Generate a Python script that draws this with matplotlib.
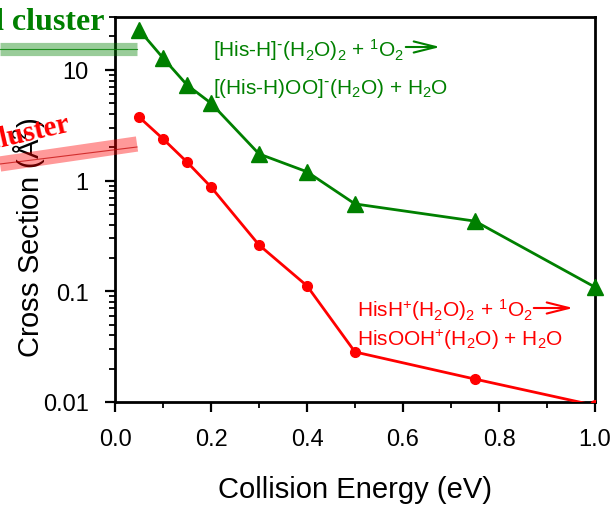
import matplotlib
matplotlib.use("Agg")
import matplotlib.pyplot as plt
from matplotlib.lines import Line2D
from matplotlib.ticker import FixedLocator, FuncFormatter, LogLocator, NullFormatter, MultipleLocator

plt.rcParams["font.family"] = ["Liberation Sans", "DejaVu Sans"]
plt.rcParams["mathtext.default"] = "regular"

# ── Data ──────────────────────────────────────────────────────
energy_green = [0.05, 0.10, 0.15, 0.20, 0.30, 0.40, 0.50, 0.75, 1.00]
xsec_green   = [23.0, 12.8, 7.3, 5.0, 1.74, 1.2, 0.615, 0.43, 0.109]

energy_red = [0.05, 0.10, 0.15, 0.20, 0.30, 0.40, 0.50, 0.75, 1.00]
xsec_red   = [3.75, 2.38, 1.47, 0.875, 0.262, 0.112, 0.0283, 0.0161, 0.0093]

x_ticks = [0.0, 0.2, 0.4, 0.6, 0.8, 1.0]
y_ticks = [0.01, 0.1, 1, 10]

GREEN = "#008000"
RED = "#ff0000"

W, H = 615, 506


def fx(px):
    return px / W


def fy(py):
    return 1 - py / H


fig = plt.figure(figsize=(6.15, 5.06), dpi=100)
ax = fig.add_axes([fx(115), fy(403), fx(595) - fx(115), fy(18) - fy(403)])

ax.plot(energy_green, xsec_green, color=GREEN, lw=2, marker="^", ms=11,
        clip_on=False, zorder=3)
ax.plot(energy_red, xsec_red, color=RED, lw=2, marker="o", ms=7,
        clip_on=True, zorder=3)

ax.set_yscale("log")
ax.set_xlim(0, 1.0)
ax.set_ylim(0.01, 30)

ax.xaxis.set_major_locator(FixedLocator(x_ticks))
ax.xaxis.set_major_formatter(FuncFormatter(lambda v, p: f"{v:.1f}"))
ax.xaxis.set_minor_locator(MultipleLocator(0.1))
ax.yaxis.set_major_locator(FixedLocator(y_ticks))
ax.yaxis.set_major_formatter(FuncFormatter(lambda v, p: f"{v:g}"))
ax.yaxis.set_minor_locator(LogLocator(base=10, subs=range(2, 10)))
ax.yaxis.set_minor_formatter(NullFormatter())

ax.tick_params(which="major", direction="out", length=7, width=1.6,
               labelsize=17, pad=12, top=False, right=False)
ax.tick_params(which="minor", direction="out", length=4.5, width=1.3,
               top=False, right=False)
for sp in ax.spines.values():
    sp.set_linewidth(2)

ax.set_xlabel("Collision Energy (eV)", fontsize=21, labelpad=18)
fig.text(fx(29), fy(238), "Cross Section (Å$^2$)", fontsize=21,
         rotation=90, ha="center", va="center")

# ── Reaction labels ───────────────────────────────────────────
fig.text(fx(213), fy(50), r"[His-H]$^{\text{-}}$(H$_2$O)$_2$ + $^1$O$_2$",
         color=GREEN, fontsize=15, va="center")
fig.text(fx(213), fy(88), r"[(His-H)OO]$^{\text{-}}$(H$_2$O) + H$_2$O",
         color=GREEN, fontsize=15, va="center")
fig.text(fx(357), fy(310), "HisH$^{+}$(H$_2$O)$_2$ + $^1$O$_2$",
         color=RED, fontsize=15, va="center")
fig.text(fx(357), fy(340), "HisOOH$^{+}$(H$_2$O) + H$_2$O",
         color=RED, fontsize=15, va="center")

for (x0, x1, y, c) in [(403, 443, 48, GREEN), (531, 576, 309, RED)]:
    ax.annotate("", xy=(fx(x1), fy(y)), xytext=(fx(x0), fy(y)),
                xycoords="figure fraction", textcoords="figure fraction",
                arrowprops=dict(arrowstyle="->,head_length=1.6,head_width=0.4",
                                color=c, lw=1.5))

# ── Cut-off cluster labels from the left panel ────────────────
fig.text(fx(104), fy(30), "Deprotonated cluster", color=GREEN, fontsize=23,
         fontweight="bold", family=["Liberation Serif", "DejaVu Serif"],
         ha="right", va="baseline")
fig.text(fx(71), fy(131), "Protonated cluster", color=RED, fontsize=21,
         fontweight="bold", family=["Liberation Serif", "DejaVu Serif"],
         ha="right", va="baseline", rotation=13, rotation_mode="anchor")

fig.add_artist(Line2D([fx(0), fx(137)], [fy(50), fy(50)], transform=fig.transFigure,
                      color=GREEN, lw=9.5, alpha=0.4, solid_capstyle="butt", zorder=5))
fig.add_artist(Line2D([fx(0), fx(137)], [fy(50), fy(50)], transform=fig.transFigure,
                      color=GREEN, lw=0.8, alpha=0.8, zorder=6))
fig.add_artist(Line2D([fx(0), fx(137)], [fy(165), fy(145)], transform=fig.transFigure,
                      color=RED, lw=11, alpha=0.4, solid_capstyle="butt", zorder=5))
fig.add_artist(Line2D([fx(0), fx(137)], [fy(165), fy(148)], transform=fig.transFigure,
                      color="#c00000", lw=0.8, alpha=0.7, zorder=6))

fig.savefig("out.png", dpi=100)
